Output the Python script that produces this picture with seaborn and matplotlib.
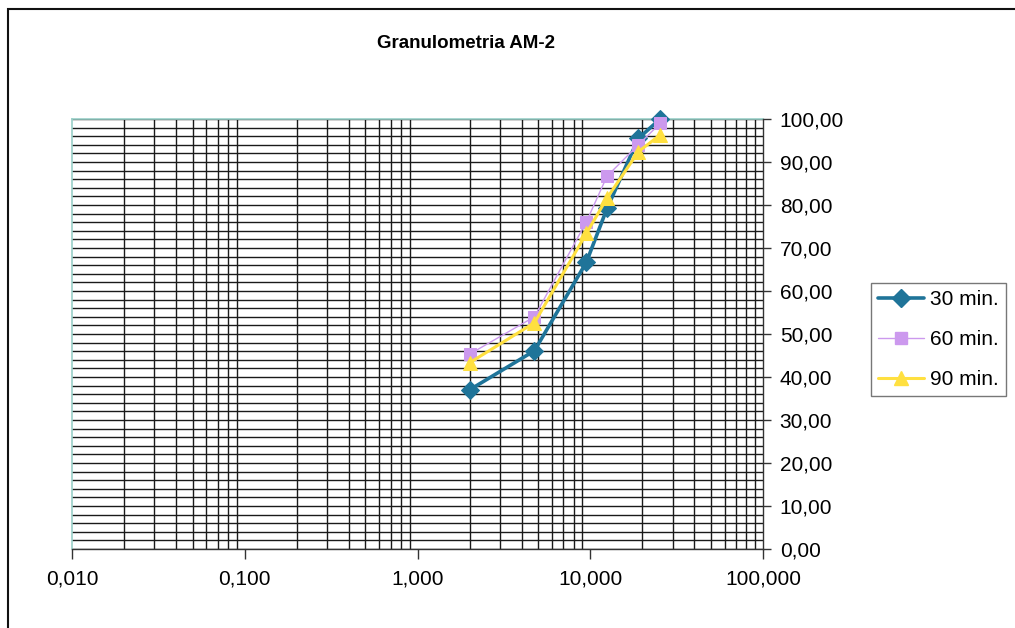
import matplotlib
matplotlib.use("Agg")
import matplotlib.pyplot as plt
from matplotlib.ticker import FixedLocator, FuncFormatter, NullFormatter, LogLocator
from matplotlib.lines import Line2D
from matplotlib.patches import Rectangle
import numpy as np
import pandas as pd
import seaborn as sns

# Sieve openings (mm) and cumulative passing (%) per grinding time
sizes = [2.0, 4.75, 9.5, 12.5, 19.0, 25.4]
pass_30 = [37.0, 46.1, 66.7, 79.2, 95.5, 100.0]
pass_60 = [45.3, 54.0, 76.1, 86.7, 94.0, 99.0]
pass_90 = [43.3, 52.6, 73.4, 81.6, 92.4, 96.3]
series_names = ["30 min.", "60 min.", "90 min."]
x_ticks = [0.01, 0.1, 1, 10, 100]
y_ticks = list(range(0, 101, 10))

sns.set_theme(style="white")
plt.rcParams["font.family"] = ["Liberation Sans", "DejaVu Sans"]
plt.rcParams["text.color"] = "black"
plt.rcParams["xtick.color"] = "black"
plt.rcParams["ytick.color"] = "black"

df = pd.DataFrame({
    "size": sizes * 3,
    "passing": pass_30 + pass_60 + pass_90,
    "series": [series_names[0]] * 6 + [series_names[1]] * 6 + [series_names[2]] * 6,
})

styles = {
    "30 min.": dict(color="#1f7499", marker="D", lw=2.6, ms=9, mec="#1f7499"),
    "60 min.": dict(color="#cc99ee", marker="s", lw=1.0, ms=8, mec="#cc99ee"),
    "90 min.": dict(color="#ffe040", marker="^", lw=2.2, ms=10, mec="#ffe040"),
}

fig = plt.figure(figsize=(10.15, 6.28), dpi=100)
ax = fig.add_axes([72 / 1015, 1 - 549 / 628, (763 - 72) / 1015, (549 - 119) / 628])

for i, name in enumerate(series_names):
    st = styles[name]
    sub = df[df["series"] == name]
    sns.lineplot(data=sub, x="size", y="passing", ax=ax, color=st["color"],
                 marker=st["marker"], markersize=st["ms"], linewidth=st["lw"],
                 markeredgecolor=st["mec"], legend=False, zorder=3 + i,
                 clip_on=False, estimator=None, sort=False)

ax.set_xscale("log")
ax.set_xlim(0.01, 100)
ax.set_ylim(0, 100)
ax.set_xlabel("")
ax.set_ylabel("")

# x axis: decade ticks labelled, grid only on 2..9 subdivisions
ax.xaxis.set_major_locator(FixedLocator(x_ticks))
ax.xaxis.set_minor_locator(LogLocator(base=10, subs=np.arange(2, 10)))
ax.xaxis.set_minor_formatter(NullFormatter())
ax.xaxis.set_major_formatter(FuncFormatter(lambda v, p: f"{v:.3f}".replace(".", ",")))
ax.grid(False)
ax.grid(True, which="minor", axis="x", color="#1a1a1a", lw=1.0)

# y axis on the right, gridlines every 2 %
ax.yaxis.tick_right()
ax.yaxis.set_major_locator(FixedLocator(y_ticks))
ax.yaxis.set_minor_locator(FixedLocator(list(range(0, 101, 2))))
ax.yaxis.set_major_formatter(FuncFormatter(lambda v, p: f"{v:.2f}".replace(".", ",")))
ax.grid(True, which="major", axis="y", color="#1a1a1a", lw=1.0)
ax.grid(True, which="minor", axis="y", color="#1a1a1a", lw=1.0)

ax.tick_params(axis="x", which="major", direction="out", length=7, width=1,
               color="#333333", labelcolor="black", labelsize=15, pad=8, bottom=True)
ax.tick_params(axis="x", which="minor", length=0)
ax.tick_params(axis="y", which="major", direction="out", length=6, width=1,
               color="#333333", labelcolor="black", labelsize=15, pad=6,
               right=True, left=False)
ax.tick_params(axis="y", which="minor", length=0)

for side in ["left", "top"]:
    ax.spines[side].set_color("#99d0c8")
    ax.spines[side].set_linewidth(1.2)
for side in ["right", "bottom"]:
    ax.spines[side].set_color("#333333")
    ax.spines[side].set_linewidth(1.0)
ax.spines["top"].set_zorder(2)

fig.text(466 / 1015, 1 - 43 / 628, "Granulometria AM-2", ha="center", va="center",
         fontsize=13.5, fontweight="bold", color="black")

handles = [Line2D([0], [0], color=styles[n]["color"], marker=styles[n]["marker"],
                  lw=styles[n]["lw"], ms=styles[n]["ms"],
                  markeredgecolor=styles[n]["mec"]) for n in series_names]
leg = fig.legend(handles, series_names, loc="upper left",
                 bbox_to_anchor=(871 / 1015, 1 - 283 / 628), frameon=True,
                 fancybox=False, edgecolor="#555555", fontsize=15,
                 handlelength=2.2, handletextpad=0.3, borderpad=0.35,
                 labelspacing=1.0, borderaxespad=0)
leg.get_frame().set_linewidth(1.0)
for t in leg.get_texts():
    t.set_color("black")

# Outer chart border
fig.patches.append(Rectangle((8 / 1015, -0.01), 1.02, 1 - 9 / 628 + 0.01,
                             transform=fig.transFigure, fill=False,
                             edgecolor="#111111", lw=1.5))

fig.savefig("out.png", dpi=100, facecolor="white")
